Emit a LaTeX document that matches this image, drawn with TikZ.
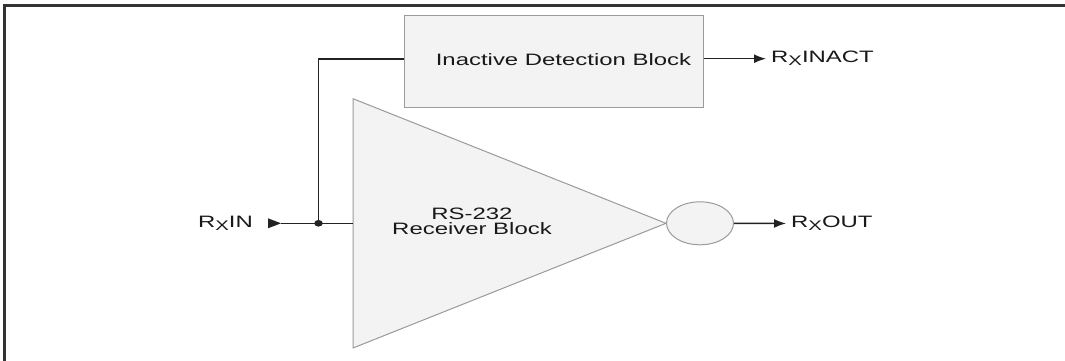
\documentclass[tikz,border=0pt]{standalone}
\usepackage{fontspec}
\setmainfont{Liberation Sans}[FakeStretch=1.45]
\usetikzlibrary{shapes.geometric,arrows.meta}
\definecolor{blockfill}{HTML}{F3F3F3}
\definecolor{blockline}{HTML}{9A9A9A}
\definecolor{wire}{HTML}{222222}
\definecolor{framecol}{HTML}{333333}
\newcommand{\RXsig}{R\raisebox{-3pt}{\fontsize{14}{14}\selectfont X}}
\begin{document}
\begin{tikzpicture}[x=1pt,y=-1pt,
  every node/.style={font=\fontsize{16.5}{15}\selectfont, text=black!90},
  block/.style={draw=blockline, fill=blockfill, line width=1pt},
  wireline/.style={draw=wire, line width=1.4pt},
  sig/.style={wireline, -{Latex[length=12pt,width=9pt]}, shorten >=5pt},
  lbl/.style={inner sep=0pt}]
\useasboundingbox (0,0) rectangle (1065,361);
% frame
\draw[framecol, line width=2.6pt] (4.7,361) -- (4.7,5.3) -- (1065,5.3);
% inactive detection block
\node[block, rectangle, minimum width=299pt, minimum height=91pt, inner sep=0pt,
      label={[xshift=10pt, yshift=2pt]center:Inactive Detection Block}] (idb) at (553.5,61.5) {};
% receiver triangle
\coordinate (tA) at (353,98.7);
\coordinate (tip) at (666,223.3);
\coordinate (tB) at (353,348);
\draw[block] (tA) -- (tip) -- (tB) -- cycle;
\node[align=center] (rxtext) at (472,221) {RS-232\\Receiver Block};
% output ellipse
\node[block, ellipse, minimum width=67pt, minimum height=43pt, inner sep=0pt, anchor=west] (inv) at (tip) {};
% labels
\node[lbl, anchor=east] (rxin) at (253,223.5) {\RXsig IN};
\node[lbl, anchor=west] (rxout) at (791,223.5) {\RXsig OUT};
\node[lbl, anchor=west] (rxinact) at (771,58) {\RXsig INACT};
% input marker and wires
\coordinate (inB) at (281,223.3);
\coordinate (junc) at (318.5,223.3);
\coordinate (corner) at (318.5,59);
\coordinate (idbin) at (idb.west |- corner);
\coordinate (trin) at (tA |- junc);
\fill[wire] (268,218.3) -- (inB) -- (268,228.3) -- cycle;
\draw[wireline] (inB) -- (junc) -- (trin);
\draw[wireline] (junc) -- (corner) -- (idbin);
\fill[wire] (junc) ellipse (4.3pt and 3.3pt);
\coordinate (idbout) at (idb.east |- 0,58.7);
\draw[sig] (idbout) -- (idbout -| rxinact.west);
\draw[sig] (inv.east) -- (rxout.west);
\end{tikzpicture}
\end{document}
